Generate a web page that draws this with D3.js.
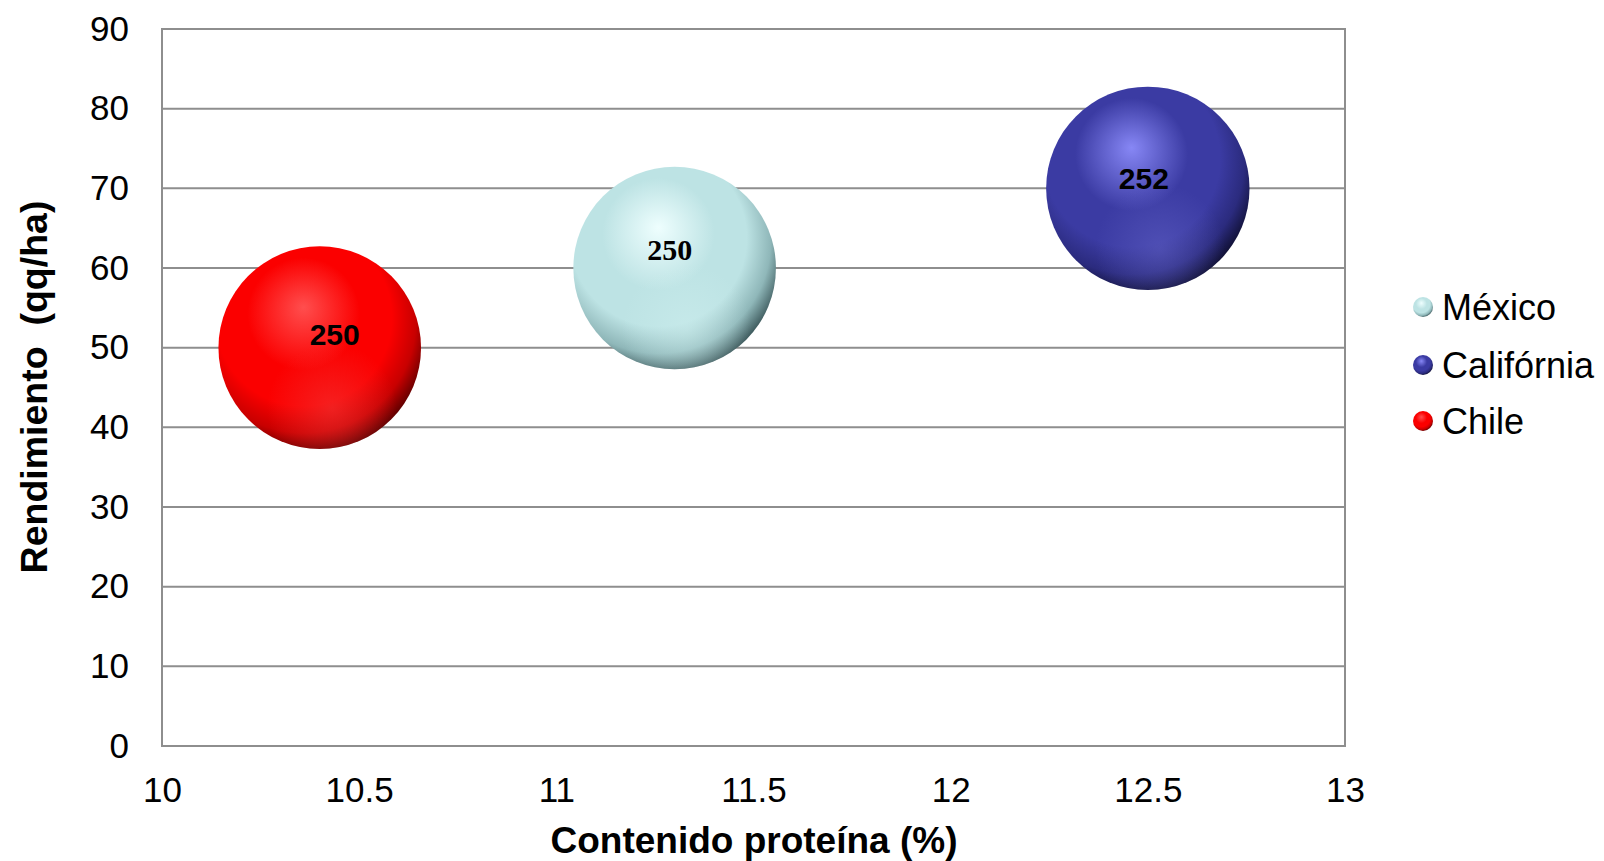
<!DOCTYPE html>
<html>
<head>
<meta charset="utf-8">
<script src="https://cdn.jsdelivr.net/npm/d3@7"></script>
<style>
  html, body { margin: 0; padding: 0; background: #ffffff; }
  svg { display: block; }
</style>
</head>
<body>
<script>
// Series and values
const seriesNames = ["México", "Califórnia", "Chile"];
const proteina = [11.3, 12.5, 10.4];       // Contenido proteína (%)
const rendimiento = [60, 70, 50];          // Rendimiento (qq/ha)
const bubbleSize = [250, 252, 250];        // bubble size values
const xTicks = [10, 10.5, 11, 11.5, 12, 12.5, 13];
const yTicks = [0, 10, 20, 30, 40, 50, 60, 70, 80, 90];

// Sphere colours per series: highlight, base, shade, dark rim, reflection
const palette = {
  "México":     { hi: "#eefefe", base: "#bde3e4", mid: "#8fb7b9", dark: "#2c4649", refl: "#cdeeee" },
  "Califórnia": { hi: "#8787f5", base: "#3b3ba3", mid: "#2b2b7e", dark: "#0b0b26", refl: "#6060c4" },
  "Chile":      { hi: "#ff4e4e", base: "#fb0000", mid: "#c80000", dark: "#4a0000", refl: "#f23a3a" }
};
const labelFont = {
  "México": "'Liberation Serif', 'Times New Roman', serif",
  "Califórnia": "'Liberation Sans', Arial, sans-serif",
  "Chile": "'Liberation Sans', Arial, sans-serif"
};
const labelOffset = { "México": [-5, -19], "Califórnia": [-4, -10], "Chile": [15, -13] };

const W = 1604, H = 861;
const plot = { left: 162, right: 1345, top: 29, bottom: 746 };
const sans = "'Liberation Sans', Arial, sans-serif";
const gridColor = "#8e8e8e";

const svg = d3.select("body").append("svg").attr("width", W).attr("height", H);
const defs = svg.append("defs");

const x = d3.scaleLinear().domain([10, 13]).range([plot.left, plot.right]);
const y = d3.scaleLinear().domain([0, 90]).range([plot.bottom, plot.top]);
const r = d3.scaleSqrt().domain([0, 252]).range([0, 101.7]);

// Gradients for the shaded spheres
seriesNames.forEach((name, i) => {
  const c = palette[name];
  const g = defs.append("radialGradient").attr("id", "sph" + i)
    .attr("cx", 0.42).attr("cy", 0.38).attr("r", 0.66)
    .attr("fx", 0.42).attr("fy", 0.3);
  g.append("stop").attr("offset", 0).attr("stop-color", c.hi);
  g.append("stop").attr("offset", 0.42).attr("stop-color", c.base);
  g.append("stop").attr("offset", 0.66).attr("stop-color", c.base);
  g.append("stop").attr("offset", 0.84).attr("stop-color", c.mid);
  g.append("stop").attr("offset", 1).attr("stop-color", c.dark);

  const rf = defs.append("radialGradient").attr("id", "refl" + i)
    .attr("cx", 0.56).attr("cy", 0.8).attr("r", 0.32);
  rf.append("stop").attr("offset", 0).attr("stop-color", c.refl).attr("stop-opacity", 0.55);
  rf.append("stop").attr("offset", 1).attr("stop-color", c.refl).attr("stop-opacity", 0);
});

// Horizontal gridlines
svg.append("g")
  .selectAll("line")
  .data(yTicks.filter(t => t > 0 && t < 90))
  .join("line")
  .attr("x1", plot.left).attr("x2", plot.right)
  .attr("y1", d => y(d)).attr("y2", d => y(d))
  .attr("stroke", gridColor).attr("stroke-width", 2);

// Plot area border
svg.append("rect")
  .attr("x", plot.left).attr("y", plot.top)
  .attr("width", plot.right - plot.left).attr("height", plot.bottom - plot.top)
  .attr("fill", "none").attr("stroke", gridColor).attr("stroke-width", 2);

// Y axis tick labels
const yAxis = svg.append("g")
  .attr("transform", `translate(${plot.left},0)`)
  .call(d3.axisLeft(y).tickValues(yTicks).tickSize(0).tickPadding(33).tickFormat(d3.format("d")));
yAxis.select(".domain").remove();
yAxis.selectAll("text")
  .attr("font-family", sans).attr("font-size", 35).attr("fill", "#000");

// X axis tick labels
const xAxis = svg.append("g")
  .attr("transform", `translate(0,${plot.bottom})`)
  .call(d3.axisBottom(x).tickValues(xTicks).tickSize(0).tickPadding(31).tickFormat(d => String(d)));
xAxis.select(".domain").remove();
xAxis.selectAll("text")
  .attr("font-family", sans).attr("font-size", 35).attr("fill", "#000");

// Axis titles
svg.append("text")
  .attr("x", 754).attr("y", 853)
  .attr("text-anchor", "middle")
  .attr("font-family", sans).attr("font-weight", "bold").attr("font-size", 37)
  .text("Contenido proteína (%)");

svg.append("text")
  .attr("transform", "translate(47,387) rotate(-90)")
  .attr("text-anchor", "middle")
  .attr("font-family", sans).attr("font-weight", "bold").attr("font-size", 37.5)
  .style("white-space", "pre")
  .text("Rendimiento  (qq/ha)");

// Bubbles
const data = seriesNames.map((name, i) => ({
  name, i, px: proteina[i], py: rendimiento[i], size: bubbleSize[i]
}));

const bubbles = svg.append("g").selectAll("g").data(data).join("g");
bubbles.append("circle")
  .attr("cx", d => x(d.px)).attr("cy", d => y(d.py)).attr("r", d => r(d.size))
  .attr("fill", d => `url(#sph${d.i})`);
bubbles.append("circle")
  .attr("cx", d => x(d.px)).attr("cy", d => y(d.py)).attr("r", d => r(d.size))
  .attr("fill", d => `url(#refl${d.i})`);

// Bubble size labels
bubbles.append("text")
  .attr("x", d => x(d.px) + labelOffset[d.name][0])
  .attr("y", d => y(d.py) + labelOffset[d.name][1])
  .attr("dy", "0.35em")
  .attr("text-anchor", "middle")
  .attr("font-family", d => labelFont[d.name])
  .attr("font-weight", "bold").attr("font-size", 30).attr("fill", "#000")
  .text(d => d.size);

// Legend
const legendY = [307, 365, 421];
const legend = svg.append("g").selectAll("g").data(data).join("g")
  .attr("transform", (d, k) => `translate(1423,${legendY[k]})`);
legend.append("circle").attr("r", 10).attr("fill", d => `url(#sph${d.i})`);
legend.append("text")
  .attr("x", 19).attr("dy", "0.36em")
  .attr("font-family", sans).attr("font-size", 36).attr("fill", "#000")
  .text(d => d.name);
</script>
</body>
</html>
